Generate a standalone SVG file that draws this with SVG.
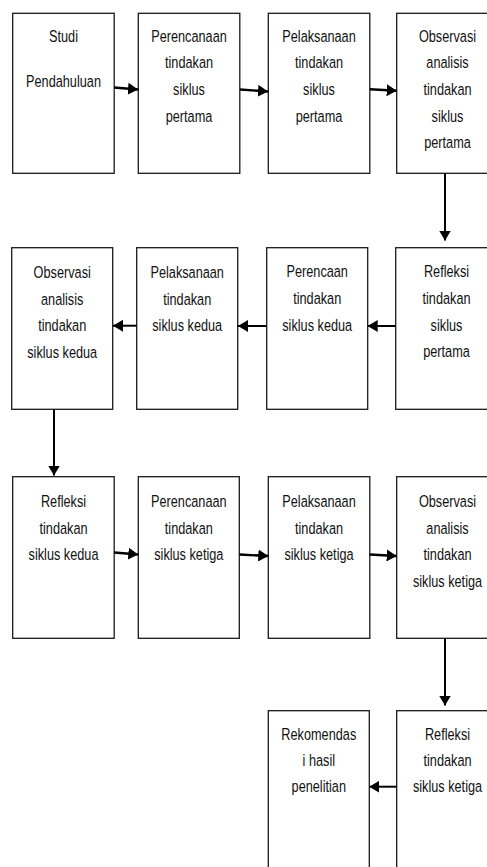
<svg xmlns="http://www.w3.org/2000/svg" width="487" height="867" viewBox="0 0 487 867">
<style>
.box{fill:#fff;stroke:#1a1a1a;stroke-width:1.3}
.t{font-family:"Liberation Sans",Arial,sans-serif;font-size:16.3px;fill:#111;text-anchor:middle}
.c{stroke:#000;stroke-width:2.4;fill:none;marker-end:url(#ah)}
.c2{stroke:#000;stroke-width:2;fill:none;marker-end:url(#ah)}
</style>
<defs>
<marker id="ah" viewBox="0 0 10 12" refX="10" refY="6" markerWidth="10" markerHeight="12" markerUnits="userSpaceOnUse" orient="auto">
<path d="M0,0 L10,6 L0,12 z" fill="#000"/>
</marker>
</defs>
<rect width="487" height="867" fill="#fff"/>

<g id="n1"><rect class="box" x="12.7" y="13.3" width="101.5" height="160"/>
<text class="t" transform="translate(63.5,41.7) scale(0.78,1)">Studi</text><text class="t" transform="translate(63.5,87.3) scale(0.78,1)">Pendahuluan</text></g>
<g id="n2"><rect class="box" x="138.3" y="13.3" width="101.5" height="160"/>
<text class="t" transform="translate(189,41.7) scale(0.78,1)">Perencanaan</text><text class="t" transform="translate(189,68.3) scale(0.78,1)">tindakan</text><text class="t" transform="translate(189,95) scale(0.78,1)">siklus</text><text class="t" transform="translate(189,121.7) scale(0.78,1)">pertama</text></g>
<g id="n3"><rect class="box" x="268.3" y="13.3" width="101.5" height="160"/>
<text class="t" transform="translate(319,41.7) scale(0.78,1)">Pelaksanaan</text><text class="t" transform="translate(319,68.3) scale(0.78,1)">tindakan</text><text class="t" transform="translate(319,95) scale(0.78,1)">siklus</text><text class="t" transform="translate(319,121.7) scale(0.78,1)">pertama</text></g>
<g id="n4"><rect class="box" x="396.7" y="13.3" width="101.5" height="160"/>
<text class="t" transform="translate(447.5,41.7) scale(0.78,1)">Observasi</text><text class="t" transform="translate(447.5,68.3) scale(0.78,1)">analisis</text><text class="t" transform="translate(447.5,95) scale(0.78,1)">tindakan</text><text class="t" transform="translate(447.5,121.7) scale(0.78,1)">siklus</text><text class="t" transform="translate(447.5,148.3) scale(0.78,1)">pertama</text></g>

<g id="n5"><rect class="box" x="395.7" y="247.7" width="101.5" height="161.6"/>
<text class="t" transform="translate(446.5,277.3) scale(0.78,1)">Refleksi</text><text class="t" transform="translate(446.5,304) scale(0.78,1)">tindakan</text><text class="t" transform="translate(446.5,330.7) scale(0.78,1)">siklus</text><text class="t" transform="translate(446.5,356.7) scale(0.78,1)">pertama</text></g>
<g id="n6"><rect class="box" x="266.7" y="247.7" width="101" height="161.6"/>
<text class="t" transform="translate(317.2,277.3) scale(0.78,1)">Perencaan</text><text class="t" transform="translate(317.2,304) scale(0.78,1)">tindakan</text><text class="t" transform="translate(317.2,330.7) scale(0.78,1)">siklus kedua</text></g>
<g id="n7"><rect class="box" x="136.7" y="247.7" width="101" height="161.6"/>
<text class="t" transform="translate(187.2,277.7) scale(0.78,1)">Pelaksanaan</text><text class="t" transform="translate(187.2,304.5) scale(0.78,1)">tindakan</text><text class="t" transform="translate(187.2,331.3) scale(0.78,1)">siklus kedua</text></g>
<g id="n8"><rect class="box" x="11.7" y="247.7" width="101" height="161.6"/>
<text class="t" transform="translate(62.2,277.7) scale(0.78,1)">Observasi</text><text class="t" transform="translate(62.2,304.5) scale(0.78,1)">analisis</text><text class="t" transform="translate(62.2,331.3) scale(0.78,1)">tindakan</text><text class="t" transform="translate(62.2,358) scale(0.78,1)">siklus kedua</text></g>

<g id="n9"><rect class="box" x="12.7" y="476.7" width="101.5" height="161.6"/>
<text class="t" transform="translate(63.5,507.3) scale(0.78,1)">Refleksi</text><text class="t" transform="translate(63.5,533.5) scale(0.78,1)">tindakan</text><text class="t" transform="translate(63.5,560) scale(0.78,1)">siklus kedua</text></g>
<g id="n10"><rect class="box" x="138.3" y="476.7" width="101" height="161.6"/>
<text class="t" transform="translate(188.8,507.3) scale(0.78,1)">Perencanaan</text><text class="t" transform="translate(188.8,533.5) scale(0.78,1)">tindakan</text><text class="t" transform="translate(188.8,560) scale(0.78,1)">siklus ketiga</text></g>
<g id="n11"><rect class="box" x="268.3" y="476.7" width="101.5" height="161.6"/>
<text class="t" transform="translate(319,507.3) scale(0.78,1)">Pelaksanaan</text><text class="t" transform="translate(319,533.5) scale(0.78,1)">tindakan</text><text class="t" transform="translate(319,560) scale(0.78,1)">siklus ketiga</text></g>
<g id="n12"><rect class="box" x="396.7" y="476.7" width="101.5" height="161.6"/>
<text class="t" transform="translate(447.5,507.3) scale(0.78,1)">Observasi</text><text class="t" transform="translate(447.5,533.5) scale(0.78,1)">analisis</text><text class="t" transform="translate(447.5,560) scale(0.78,1)">tindakan</text><text class="t" transform="translate(447.5,586.7) scale(0.78,1)">siklus ketiga</text></g>

<g id="n13"><rect class="box" x="396.7" y="710.7" width="101.5" height="170"/>
<text class="t" transform="translate(447.5,740) scale(0.78,1)">Refleksi</text><text class="t" transform="translate(447.5,766) scale(0.78,1)">tindakan</text><text class="t" transform="translate(447.5,791.7) scale(0.78,1)">siklus ketiga</text></g>
<g id="n14"><rect class="box" x="268.3" y="710.7" width="101" height="170"/>
<text class="t" transform="translate(318.8,740) scale(0.78,1)">Rekomendas</text><text class="t" transform="translate(318.8,766) scale(0.78,1)">i hasil</text><text class="t" transform="translate(318.8,791.7) scale(0.78,1)">penelitian</text></g>

<g id="connectors">
<path class="c" d="M114,87.5 L138,89.5"/>
<path class="c" d="M240,89.5 L268,91.5"/>
<path class="c" d="M370,89.3 L396.7,90.7"/>
<path class="c2" d="M445,173.3 L445,240.5"/>
<path class="c2" d="M395.7,326 L367.7,326"/>
<path class="c2" d="M266.7,326 L238,326"/>
<path class="c2" d="M136.7,325.7 L113,325.7"/>
<path class="c2" d="M54,409.3 L54,475.5"/>
<path class="c" d="M114.3,552.5 L138.3,554.5"/>
<path class="c" d="M239.3,554.5 L268.3,556"/>
<path class="c" d="M369.7,554.5 L396.7,556"/>
<path class="c2" d="M445,638.3 L445,705.5"/>
<path class="c2" d="M396.7,786.7 L369.3,786.7"/>
</g>
</svg>
